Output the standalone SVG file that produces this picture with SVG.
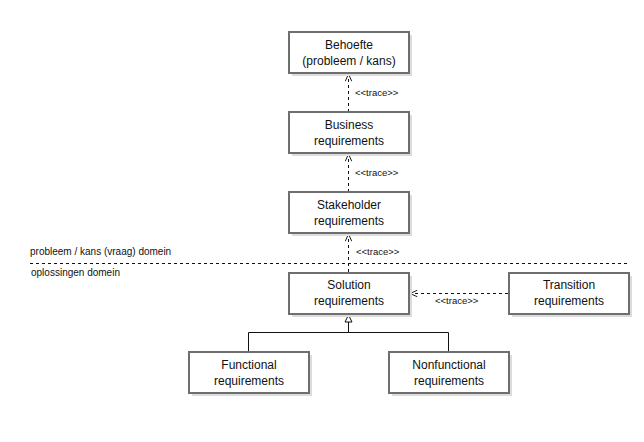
<svg xmlns="http://www.w3.org/2000/svg" width="644" height="442" viewBox="0 0 644 442">
<defs>
<style>
.box{fill:#fff;stroke:#6e6e6e;stroke-width:2}
.shd{fill:#dcdcdc}
.t{font-family:"Liberation Sans",Arial,sans-serif;font-size:12px;fill:#111;text-anchor:middle}
.s{font-family:"Liberation Sans",Arial,sans-serif;font-size:9.5px;fill:#111}
.d{font-family:"Liberation Sans",Arial,sans-serif;font-size:10px;fill:#111}
.dash{fill:none;stroke:#111;stroke-width:1;stroke-dasharray:3,3}
.solid{fill:none;stroke:#111;stroke-width:1}
</style>
<marker id="open" viewBox="0 0 10 10" refX="10" refY="5" markerWidth="8" markerHeight="8" markerUnits="userSpaceOnUse" orient="auto">
<path d="M1,1 L10,5 L1,9" fill="none" stroke="#111" stroke-width="1.2"/>
</marker>
</defs>
<rect width="644" height="442" fill="#fff"/>
<g id="domain">
<line x1="30" y1="263.5" x2="627" y2="263.5" class="dash"/>
<text x="30" y="255" class="d">probleem / kans (vraag) domein</text>
<text x="31" y="276" class="d">oplossingen domein</text>
</g>
<g id="connectors">
<line x1="348.5" y1="112" x2="348.5" y2="74" class="dash" marker-end="url(#open)"/>
<text x="355" y="96" class="s">&lt;&lt;trace&gt;&gt;</text>
<line x1="348.5" y1="192" x2="348.5" y2="154" class="dash" marker-end="url(#open)"/>
<text x="355" y="176" class="s">&lt;&lt;trace&gt;&gt;</text>
<line x1="348.5" y1="272" x2="348.5" y2="234" class="dash" marker-end="url(#open)"/>
<text x="356" y="255" class="s">&lt;&lt;trace&gt;&gt;</text>
<line x1="508" y1="293.5" x2="410" y2="293.5" class="dash" marker-end="url(#open)"/>
<text x="435" y="304" class="s">&lt;&lt;trace&gt;&gt;</text>
<polyline points="248.5,352 248.5,332.5 348.5,332.5 348.5,322" class="solid"/>
<polyline points="448.5,352 448.5,332.5 348.5,332.5" class="solid"/>
<polygon points="348.5,315 345,322 352,322" fill="#fff" stroke="#111" stroke-width="1"/>
</g>
<g id="behoefte">
<rect x="292" y="35" width="120" height="41" class="shd"/>
<rect x="289" y="32" width="120" height="41" class="box"/>
<text x="349" y="49" class="t">Behoefte</text>
<text x="349" y="65" class="t">(probleem / kans)</text>
</g>
<g id="business">
<rect x="292" y="115" width="120" height="41" class="shd"/>
<rect x="289" y="112" width="120" height="41" class="box"/>
<text x="349" y="129" class="t">Business</text>
<text x="349" y="145" class="t">requirements</text>
</g>
<g id="stakeholder">
<rect x="292" y="195" width="120" height="41" class="shd"/>
<rect x="289" y="192" width="120" height="41" class="box"/>
<text x="349" y="209" class="t">Stakeholder</text>
<text x="349" y="225" class="t">requirements</text>
</g>
<g id="solution">
<rect x="292" y="276" width="120" height="41" class="shd"/>
<rect x="289" y="273" width="120" height="41" class="box"/>
<text x="349" y="289" class="t">Solution</text>
<text x="349" y="305" class="t">requirements</text>
</g>
<g id="transition">
<rect x="512" y="276" width="120" height="41" class="shd"/>
<rect x="509" y="273" width="120" height="41" class="box"/>
<text x="569" y="289" class="t">Transition</text>
<text x="569" y="305" class="t">requirements</text>
</g>
<g id="functional">
<rect x="192" y="355" width="120" height="41" class="shd"/>
<rect x="189" y="352" width="120" height="41" class="box"/>
<text x="249" y="369" class="t">Functional</text>
<text x="249" y="385" class="t">requirements</text>
</g>
<g id="nonfunctional">
<rect x="392" y="355" width="120" height="41" class="shd"/>
<rect x="389" y="352" width="120" height="41" class="box"/>
<text x="449" y="369" class="t">Nonfunctional</text>
<text x="449" y="385" class="t">requirements</text>
</g>
</svg>
